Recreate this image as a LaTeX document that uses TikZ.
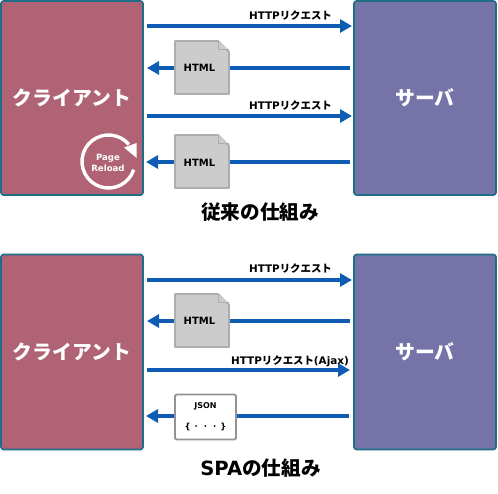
\documentclass[tikz,border=0pt]{standalone}
\usepackage{fontspec}
\setmainfont{DejaVu Sans}
\newfontfamily\jp{Noto Sans CJK JP}
\usetikzlibrary{arrows.meta}
\definecolor{cli}{HTML}{AF6375}
\definecolor{srv}{HTML}{7573A8}
\definecolor{edge}{HTML}{1F6E85}
\definecolor{arr}{HTML}{0F5CB4}
\definecolor{docf}{HTML}{CCCCCC}
\definecolor{docl}{HTML}{ADADAD}
\tikzset{
  client/.style={draw=edge,line width=1.6pt,rounded corners=2.5pt,fill=cli,minimum width=142pt,text=white,inner sep=0pt,font=\jp\bfseries\fontsize{19.8}{20}\selectfont},
  server/.style={client,fill=srv},
  flow/.style={draw=arr,line width=4pt,-{Triangle[length=12pt,width=13pt]}},
  lab/.style={font=\bfseries\fontsize{10.4}{11}\selectfont,inner sep=0pt,anchor=base east,text=black},
  doctext/.style={font=\bfseries\fontsize{10}{11}\selectfont,inner sep=0pt,text=black},
  title/.style={font=\bfseries\fontsize{19.6}{20}\selectfont,inner sep=0pt,text=black},
  docb/.style={draw=docl,fill=docf,line width=1.8pt,line join=round},
  json/.style={draw=black!42,fill=white,line width=1.8pt,rounded corners=1.5pt,minimum width=61pt,minimum height=45pt,inner sep=0pt},
}
\newcommand{\req}{HTTP{\jp リクエスト}}
\begin{document}
\begin{tikzpicture}[x=1pt,y=-1pt]
\useasboundingbox (0,0) rectangle (498,494);
% upper
\node[client,minimum height=194pt] (c1) at (72,98) {\raisebox{2pt}{クライアント}};
\node[server,minimum height=194pt] (s1) at (425,98) {\raisebox{2pt}{\jp サーバ}};
\coordinate (c1a) at (147,26); \coordinate (s1a) at (352,26);
\coordinate (s1b) at (350,68); \coordinate (c1b) at (147,68);
\coordinate (c1c) at (147,116); \coordinate (s1c) at (352,116);
\coordinate (s1d) at (350,162); \coordinate (c1d) at (146,162);
\draw[flow] (c1a) -- (s1a);
\draw[flow] (s1b) -- (c1b);
\draw[flow] (c1c) -- (s1c);
\draw[flow] (s1d) -- (c1d);
\node[lab] (l1) at (332,20) {\req};
\node[lab] (l2) at (332,110) {\req};
\draw[docb] (175,41) -- (218,41) -- (229,52) -- (229,94) -- (175,94) -- cycle;
\draw[docb,line width=1pt] (218,41) -- (218,50) -- (229,50);
\node[doctext] (d1) at (199.5,68) {HTML};
\draw[docb] (175,135) -- (218,135) -- (229,146) -- (229,188) -- (175,188) -- cycle;
\draw[docb,line width=1pt] (218,135) -- (218,144) -- (229,144);
\node[doctext] (d2) at (199.5,163) {HTML};
\node[title] (t1) at (260,212.5) {{\jp 従来の仕組み}};
% reload
\draw[white,line width=3.4pt] (133.7,169.7) arc[start angle=-18,end angle=-320,radius=26.5pt];
\fill[white] (136.7,143) -- (136.7,158) -- (124,147.5) -- cycle;
\node[font=\bfseries\fontsize{8.6}{11.5}\selectfont,text=white,align=center,inner sep=0pt] (pr) at (108,163) {Page\\Reload};
% lower
\node[client,minimum height=195pt] (c2) at (72,352) {\raisebox{2pt}{クライアント}};
\node[server,minimum height=195pt] (s2) at (425,352) {\raisebox{2pt}{\jp サーバ}};
\coordinate (c2a) at (147,280); \coordinate (s2a) at (352,280);
\coordinate (s2b) at (350,321); \coordinate (c2b) at (147,321);
\coordinate (c2c) at (147,370); \coordinate (s2c) at (350,370);
\coordinate (s2d) at (349,416); \coordinate (c2d) at (146,416);
\draw[flow] (c2a) -- (s2a);
\draw[flow] (s2b) -- (c2b);
\draw[flow] (c2c) -- (s2c);
\draw[flow] (s2d) -- (c2d);
\node[lab] (l3) at (332,273) {\req};
\node[lab] (l4) at (349,364) {\req(Ajax)};
\draw[docb] (175,294) -- (218,294) -- (229,305) -- (229,347) -- (175,347) -- cycle;
\draw[docb,line width=1pt] (218,294) -- (218,303) -- (229,303);
\node[doctext] (d3) at (199.5,321) {HTML};
\node[json] (j) at (205.5,417) {};
\node[font=\bfseries\fontsize{8}{8}\selectfont,inner sep=0pt,text=black] (j1) at (205.5,406) {JSON};
\node[font=\bfseries\fontsize{8.5}{9}\selectfont,inner sep=0pt,text=black] (j2) at (205.5,427) {\{\kern4pt ·\kern6pt·\kern6pt·\kern4pt\}};
\node[title] (t2) at (260.5,468) {SPA{\jp の仕組み}};
\end{tikzpicture}
\end{document}
